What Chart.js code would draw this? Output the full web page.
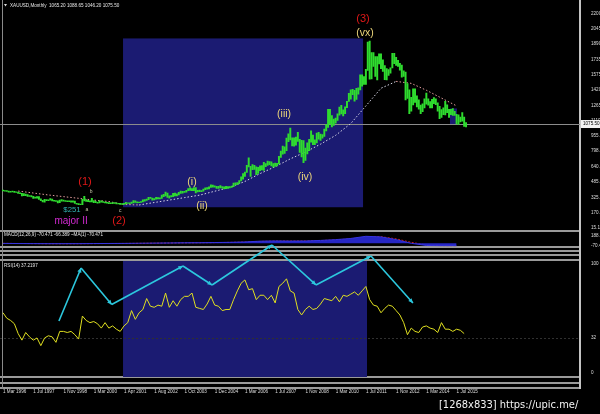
<!DOCTYPE html>
<html>
<head>
<meta charset="utf-8">
<script src="https://cdn.jsdelivr.net/npm/chart.js@4.4.1/dist/chart.umd.min.js"></script>
<style>
  html, body { margin: 0; padding: 0; background: #000; width: 600px; height: 414px; overflow: hidden; }
  canvas { position: absolute; left: 0; }
  .sep { position: absolute; left: 0; width: 580px; height: 2px; background: #9a9a9a; }
  .vline { position: absolute; top: 0; height: 389px; }
  #stamp { position: absolute; left: 439px; top: 398px; color: #f4f4f4; font: 11px "DejaVu Sans Condensed", "DejaVu Sans", sans-serif; white-space: nowrap; }
</style>
</head>
<body>
<div class="sep" style="top:230px"></div>
<div class="sep" style="top:246px"></div>
<div class="sep" style="top:250px"></div>
<div class="sep" style="top:254px"></div>
<div class="sep" style="top:259px"></div>
<div class="sep" style="top:376px"></div>
<div class="sep" style="top:382px"></div>
<div class="sep" style="top:387px"></div>
<div class="vline" style="left:2px;width:1px;background:#8a8a8a"></div>
<div class="vline" style="left:579px;width:2px;background:#c4c4c4"></div>

<canvas id="mainChart" width="600" height="236" style="top:0"></canvas>
<canvas id="macdChart" width="600" height="24" style="top:228px"></canvas>
<canvas id="rsiChart" width="600" height="160" style="top:240px"></canvas>
<div id="stamp">[1268x833] https://upic.me/</div>

<script>
// XAUUSD monthly, one bar per index, first bar = Mar 1996
const lows = [
  394, 390, 388, 380, 380, 384, 378, 377, 369, 366, 343, 344, 346, 338, 336, 333,
  317, 319, 320, 306, 294, 282, 278, 295, 293, 300, 292, 290, 285, 272, 273, 288,
  289, 285, 284, 283, 278, 279, 267, 257, 252, 252, 254, 292, 286, 284, 281, 280,
  274, 273, 269, 270, 279, 275, 271, 268, 264, 263, 264, 266, 262, 262, 255, 256,
  255, 262, 265, 264, 265, 271, 277, 271, 274, 276, 281, 288, 297, 305, 316, 300,
  302, 310, 312, 313, 317, 335, 342, 328, 320, 331, 335, 342, 343, 352, 368, 371,
  378, 380, 396, 398, 395, 395, 372, 382, 385, 385, 390, 406, 410, 414, 430, 432,
  432, 418, 420, 425, 422, 414, 415, 419, 424, 428, 437, 455, 458, 469, 495, 512,
  540, 581, 637, 542, 609, 612, 560, 573, 601, 607, 603, 640, 654, 660, 648, 635,
  644, 648, 669, 735, 767, 776, 804, 896, 913, 852, 850, 860, 897, 786, 740, 681,
  705, 770, 804, 890, 866, 864, 883, 920, 908, 931, 950, 1004, 1040, 1075, 1045, 1060,
  1085, 1113, 1166, 1178, 1157, 1182, 1243, 1306, 1330, 1374, 1309, 1327, 1380, 1422, 1462, 1478,
  1478, 1623, 1532, 1534, 1663, 1562, 1526, 1687, 1641, 1613, 1527, 1526, 1571, 1594, 1648, 1690,
  1672, 1662, 1625, 1554, 1562, 1321, 1337, 1180, 1207, 1270, 1295, 1251, 1226, 1180, 1201, 1240,
  1277, 1268, 1240, 1240, 1282, 1272, 1207, 1131, 1142, 1170, 1167, 1191, 1142, 1170, 1162, 1162,
  1077, 1072, 1097, 1105, 1050, 1046
];
const highs = [
  402, 398, 396, 392, 390, 391, 388, 385, 382, 374, 369, 365, 362, 355, 346, 347,
  337, 330, 336, 336, 313, 298, 307, 305, 302, 315, 309, 297, 296, 291, 299, 304,
  299, 296, 293, 291, 291, 292, 289, 268, 264, 260, 308, 338, 305, 297, 292, 317,
  294, 286, 276, 293, 291, 284, 280, 277, 275, 272, 274, 275, 271, 268, 267, 265,
  266, 276, 273, 272, 279, 294, 293, 281, 280, 285, 303, 306, 310, 327, 329, 321,
  314, 328, 326, 322, 350, 358, 382, 372, 342, 345, 368, 371, 363, 379, 391, 390,
  390, 400, 418, 428, 416, 428, 427, 399, 401, 398, 413, 425, 428, 435, 456, 454,
  445, 441, 440, 448, 437, 436, 441, 438, 437, 443, 474, 476, 478, 499, 538, 569,
  585, 655, 730, 643, 663, 653, 640, 633, 649, 651, 686, 673, 697, 692, 690, 672,
  676, 675, 745, 800, 850, 843, 932, 976, 1033, 935, 935, 942, 990, 920, 909, 907,
  831, 883, 919, 1005, 963, 915, 984, 990, 973, 967, 1025, 1070, 1226, 1225, 1162, 1125,
  1135, 1180, 1249, 1265, 1220, 1250, 1307, 1388, 1424, 1430, 1420, 1440, 1445, 1576, 1578, 1560,
  1632, 1911, 1921, 1803, 1803, 1764, 1764, 1791, 1792, 1730, 1671, 1640, 1630, 1649, 1796, 1796,
  1755, 1724, 1695, 1676, 1617, 1605, 1487, 1424, 1348, 1433, 1434, 1362, 1321, 1268, 1280, 1331,
  1392, 1331, 1305, 1326, 1345, 1332, 1292, 1255, 1222, 1240, 1307, 1271, 1224, 1224, 1232, 1205,
  1174, 1170, 1146, 1191, 1147, 1089
];
const lastBar = [1065.20, 1088.65, 1046.20, 1075.50]; // O H L C of the open bar

// dotted moving average, one value every 8 bars starting at bar 8
const MA_STEP = 8;
const maValues = [392, 372, 352, 335, 318, 300, 285, 255, 250, 275, 300, 325, 350, 390, 430, 490,
  570, 640, 720, 790, 870, 960, 1080, 1260, 1440, 1510, 1490, 1420, 1340, 1260];

// MACD(12,26,9) main and signal, one value every 8 bars
const MACD_STEP = 8;
const macdValues = [-2, -5, -8, -10, -10, -9, -6, -4, -2, 2, 6, 10, 14, 16, 20, 26, 36, 55, 62, 58, 60, 75, 95, 125, 180, 165, 95, 0, -55, -68, -70];
const macdSignal = [-1, -4, -7, -9, -10, -9, -7, -5, -3, 0, 4, 8, 12, 15, 18, 24, 32, 48, 58, 59, 60, 70, 88, 115, 165, 170, 115, 25, -40, -62, -69];

// RSI(14), one value every 2 bars
const RSI_STEP = 2;
const rsiValues = [
  55, 50, 48, 45, 36, 30, 37, 33, 30, 32, 25, 32, 34, 33, 28, 38,
  38, 37, 38, 35, 31, 52, 48, 46, 47, 45, 41, 46, 41, 43, 40, 38,
  43, 46, 57, 49, 55, 58, 68, 61, 60, 62, 61, 73, 60, 66, 61, 67,
  70, 70, 73, 60, 59, 58, 63, 70, 62, 61, 57, 58, 58, 67, 75, 82,
  85, 76, 77, 67, 71, 71, 67, 71, 64, 79, 82, 86, 75, 73, 58, 53,
  58, 61, 58, 59, 63, 68, 67, 66, 70, 65, 71, 70, 72, 74, 71, 75,
  79, 67, 62, 61, 55, 59, 62, 61, 57, 53, 46, 35, 41, 38, 37, 42,
  43, 41, 40, 37, 46, 40, 40, 38, 40, 39, 36
];

// hand drawn cyan arrows in the RSI window (bar index, RSI value of each vertex)
const trendIdx = [29.6, 41.3, 57.5, 95.2, 110.6, 142.3, 165.6, 194.7, 216.9];
const trendRsi = [47.5, 95.9, 62.5, 97.7, 80.4, 116.9, 80.4, 106.8, 63.9];

// shaded rectangles (bar index range, value range)
const priceBoxIdx = [63.5, 190.5];
const priceBoxVal = [227, 1948];
const smallBoxIdx = [236.5, 240.2];
const smallBoxVal = [1072, 1234];
const rsiBoxIdx = [63.5, 192.6];

// wave count labels anchored at (bar index, price)
const waveText   = ['(1)', '(2)', '(3)', '(vx)', '(i)', '(ii)', '(iii)', '(iv)', 'major II', '$251', 'a', 'b', 'c'];
const waveIdx    = [43.4, 61.4, 190.5, 191.5, 100, 105.3, 148.7, 159.8, 36, 36.5, 44.4, 46.6, 62];
const wavePrice  = [488, 85, 2150, 2000, 488, 237, 1173, 539, 85, 196, 206, 387, 196];
const waveDegree = ['primary', 'primary', 'primary', 'minor', 'minor', 'minor', 'minor', 'minor', 'major', 'note', 'tiny', 'tiny', 'tiny'];

// axis labels
const priceTicks = [2200.60, 2045.50, 1890.40, 1735.30, 1575.55, 1420.40, 1265.30, 1110.50, 955.40, 798.30, 640.20, 485.40, 325.30, 170.20, 15.10];
const macdTicks = [188.856, -70.471];
const rsiTicks = [100, 32, 0];
const BARS_PER_LABEL = 16;
const dateLabels = ['1 Mar 1996', '1 Jul 1997', '1 Nov 1998', '1 Mar 2000', '1 Apr 2001', '1 Aug 2002', '1 Oct 2003', '1 Dec 2004',
  '1 Mar 2006', '1 Jul 2007', '1 Nov 2008', '1 Mar 2010', '1 Jul 2011', '1 Nov 2012', '1 Mar 2014', '1 Jul 2015'];

// ---- look ----
const X_MIN = -1.6, X_MAX = 305.3;
const AXIS_W = 20;
const FONT = 'Liberation Sans';
const tickFont = { family: FONT, size: 4.6 };
const BOX_COLOR = '#1b1b72';
const degreeStyle = {
  primary: { color: '#e01818', size: 11 },
  minor:   { color: '#ecd67a', size: 10.5 },
  major:   { color: '#d22ad2', size: 10 },
  note:    { color: '#30b0b0', size: 7.8 },
  tiny:    { color: '#c8c8a8', size: 5 }
};

Chart.defaults.animation = false;
Chart.defaults.responsive = false;
Chart.defaults.plugins.legend.display = false;
Chart.defaults.plugins.tooltip.enabled = false;

function sharedX(display) {
  return {
    type: 'linear', min: X_MIN, max: X_MAX, display, offset: false,
    grid: { display: false }, border: { display: false },
    afterFit: a => { a.paddingLeft = 0; a.paddingRight = 0; }
  };
}

function rightAxis(min, max, values, fmt) {
  return {
    position: 'right', min, max,
    grid: { display: false }, border: { display: false },
    afterBuildTicks: a => { a.ticks = values.map(v => ({ value: v })); },
    afterFit: a => { a.width = AXIS_W; },
    ticks: { autoSkip: false, color: '#dedede', font: tickFont, padding: 3, callback: fmt }
  };
}

function drawSmallText(ctx, text, x, y) {
  ctx.save();
  ctx.font = `4.6px "${FONT}"`;
  ctx.fillStyle = '#e6e6e6';
  ctx.textBaseline = 'middle';
  ctx.fillText(text, x, y);
  ctx.restore();
}

function fillBox(ctx, x, y, idxRange, valRange) {
  const x0 = x.getPixelForValue(idxRange[0]), x1 = x.getPixelForValue(idxRange[1]);
  const y0 = y.getPixelForValue(valRange[1]), y1 = y.getPixelForValue(valRange[0]);
  ctx.fillRect(x0, y0, x1 - x0, y1 - y0);
}

const mainDecor = {
  id: 'mainDecor',
  beforeDatasetsDraw(chart) {
    const { ctx, chartArea: a, scales: { x, y } } = chart;
    ctx.save();
    ctx.fillStyle = BOX_COLOR;
    fillBox(ctx, x, y, priceBoxIdx, priceBoxVal);
    fillBox(ctx, x, y, smallBoxIdx, smallBoxVal);
    const py = Math.round(y.getPixelForValue(lastBar[3])) + 0.5;
    ctx.strokeStyle = '#8c8c8c';
    ctx.lineWidth = 1;
    ctx.beginPath(); ctx.moveTo(a.left, py); ctx.lineTo(a.right, py); ctx.stroke();
    ctx.restore();
  },
  afterDraw(chart) {
    const { ctx, chartArea: a, scales: { x, y } } = chart;
    ctx.save();
    ctx.textAlign = 'center';
    ctx.textBaseline = 'middle';
    waveText.forEach((t, i) => {
      const st = degreeStyle[waveDegree[i]];
      ctx.font = `${st.size}px "${FONT}"`;
      ctx.fillStyle = st.color;
      ctx.fillText(t, x.getPixelForValue(waveIdx[i]), y.getPixelForValue(wavePrice[i]));
    });
    // current price tag on the axis
    const py = y.getPixelForValue(lastBar[3]);
    ctx.fillStyle = '#f2f2f2';
    ctx.fillRect(a.right + 1, py - 4, AXIS_W - 1, 8);
    ctx.fillStyle = '#000';
    ctx.textAlign = 'left';
    ctx.font = `4.6px "${FONT}"`;
    ctx.fillText(lastBar[3].toFixed(2), a.right + 3, py);
    // title
    ctx.fillStyle = '#dcdcdc';
    ctx.beginPath(); ctx.moveTo(4, 4); ctx.lineTo(7, 4); ctx.lineTo(5.5, 6.5); ctx.closePath(); ctx.fill();
    ctx.restore();
    drawSmallText(ctx, 'XAUUSD,Monthly  ' + lastBar.map(v => v.toFixed(2)).join(' '), 10, 5.5);
  }
};

new Chart(document.getElementById('mainChart'), {
  type: 'bar',
  data: {
    datasets: [
      {
        type: 'line',
        data: maValues.map((v, k) => ({ x: (k + 1) * MA_STEP, y: v })),
        borderWidth: 1,
        borderDash: [1.5, 2],
        pointRadius: 0,
        segment: { borderColor: c => c.p1.parsed.y >= c.p0.parsed.y ? '#d4d4e4' : '#e39c9c' },
        order: 2
      },
      {
        data: highs.map((h, i) => ({ x: i, y: [lows[i], h] })),
        backgroundColor: '#2fdc2f',
        barThickness: 1.3,
        order: 1
      }
    ]
  },
  options: {
    layout: { padding: { top: 3, bottom: 7, left: 0, right: 0 } },
    scales: {
      x: sharedX(false),
      y: rightAxis(5.03, 2281.2, priceTicks, v => v.toFixed(2))
    }
  },
  plugins: [mainDecor]
});

new Chart(document.getElementById('macdChart'), {
  type: 'line',
  data: {
    datasets: [
      {
        data: macdValues.map((v, k) => ({ x: k * MACD_STEP, y: v })),
        borderColor: '#3434e0', backgroundColor: '#2626c4', fill: 'origin',
        borderWidth: 1, pointRadius: 0
      },
      {
        data: macdSignal.map((v, k) => ({ x: k * MACD_STEP, y: v })),
        borderColor: '#d02020', borderWidth: 1, borderDash: [2, 1.5], pointRadius: 0
      }
    ]
  },
  options: {
    layout: { padding: { top: 4, bottom: 5, left: 0, right: 0 } },
    scales: {
      x: sharedX(false),
      y: rightAxis(-75, 246, macdTicks, v => v.toFixed(3))
    }
  },
  plugins: [{
    id: 'macdLabel',
    afterDraw(chart) {
      drawSmallText(chart.ctx, 'MACD(12,26,9) -70.471 -66.389 ~MA(1) -70.471', 4, 7);
    }
  }]
});

const rsiDecor = {
  id: 'rsiDecor',
  beforeDatasetsDraw(chart) {
    const { ctx, chartArea: a, scales: { x, y } } = chart;
    ctx.save();
    ctx.fillStyle = BOX_COLOR;
    const bx0 = x.getPixelForValue(rsiBoxIdx[0]), bx1 = x.getPixelForValue(rsiBoxIdx[1]);
    ctx.fillRect(bx0, a.top, bx1 - bx0, a.bottom - a.top);
    const ly = Math.round(y.getPixelForValue(rsiTicks[1])) + 0.5;
    ctx.strokeStyle = '#303030';
    ctx.setLineDash([2, 2]);
    ctx.beginPath(); ctx.moveTo(a.left, ly); ctx.lineTo(a.right, ly); ctx.stroke();
    ctx.restore();
  },
  afterDatasetsDraw(chart) {
    const { ctx, scales: { x, y } } = chart;
    ctx.save();
    ctx.strokeStyle = '#2cc8de';
    ctx.fillStyle = '#2cc8de';
    ctx.lineWidth = 1.6;
    for (let i = 1; i < trendIdx.length; i++) {
      const x0 = x.getPixelForValue(trendIdx[i - 1]), y0 = y.getPixelForValue(trendRsi[i - 1]);
      const x1 = x.getPixelForValue(trendIdx[i]), y1 = y.getPixelForValue(trendRsi[i]);
      ctx.beginPath(); ctx.moveTo(x0, y0); ctx.lineTo(x1, y1); ctx.stroke();
      const ang = Math.atan2(y1 - y0, x1 - x0), len = 5, w = 0.45;
      ctx.beginPath();
      ctx.moveTo(x1, y1);
      ctx.lineTo(x1 - len * Math.cos(ang - w), y1 - len * Math.sin(ang - w));
      ctx.lineTo(x1 - len * Math.cos(ang + w), y1 - len * Math.sin(ang + w));
      ctx.closePath(); ctx.fill();
    }
    ctx.restore();
  },
  afterDraw(chart) {
    drawSmallText(chart.ctx, 'RSI(14) 37.2197', 4, chart.chartArea.top + 5);
  }
};

new Chart(document.getElementById('rsiChart'), {
  type: 'line',
  data: {
    datasets: [{
      data: rsiValues.map((v, k) => ({ x: k * RSI_STEP, y: v })),
      borderColor: '#e0e020', borderWidth: 1, pointRadius: 0
    }]
  },
  options: {
    layout: { padding: { top: 21, bottom: 0, left: 0, right: 0 } },
    scales: {
      x: {
        ...sharedX(true),
        afterBuildTicks: a => { a.ticks = dateLabels.map((_, i) => ({ value: i * BARS_PER_LABEL })); },
        afterFit: a => { a.height = 23; a.paddingLeft = 0; a.paddingRight = 0; },
        ticks: {
          autoSkip: false, maxRotation: 0, minRotation: 0, align: 'start', padding: 4,
          color: '#dedede', font: tickFont,
          callback: v => dateLabels[Math.round(v / BARS_PER_LABEL)]
        }
      },
      y: rightAxis(-3.65, 102.28, rsiTicks, v => String(v))
    }
  },
  plugins: [rsiDecor]
});
</script>
</body>
</html>
